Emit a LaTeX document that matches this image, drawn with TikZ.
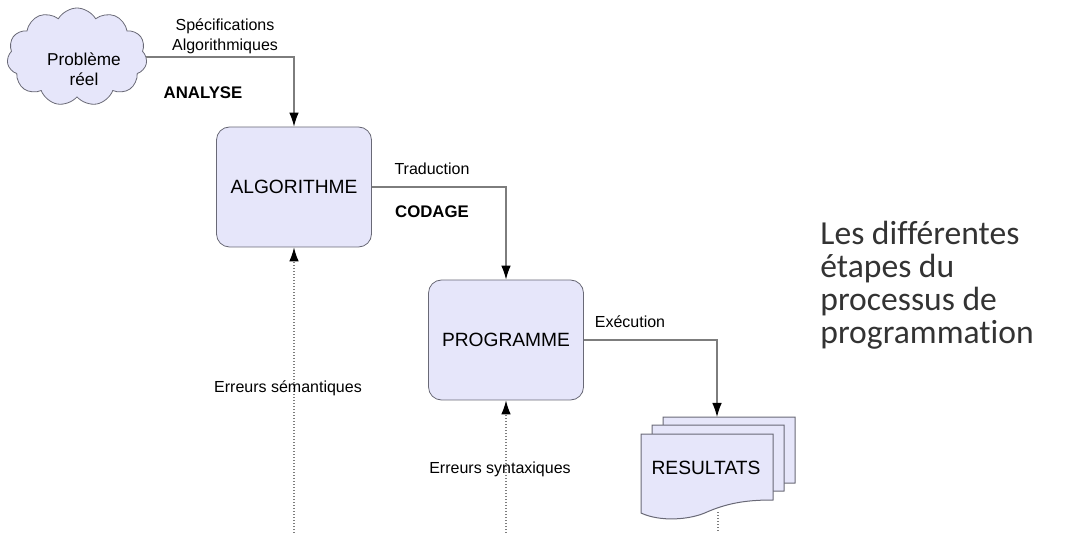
\documentclass[tikz,border=0pt]{standalone}
\usepackage{fontspec}
\setmainfont{Liberation Sans}
\newfontfamily\carlito[Ligatures=NoCommon]{Carlito}
\usetikzlibrary{positioning,arrows.meta,shapes.symbols}
\definecolor{boxfill}{RGB}{230,230,250}
\definecolor{boxline}{RGB}{105,105,118}
\definecolor{wirecol}{RGB}{125,125,125}
\tikzset{
    box/.style={draw=boxline, fill=boxfill, rounded corners=6.5pt,
        minimum width=77.5pt, minimum height=60pt, font=\fontsize{9.6}{11.5}\selectfont},
    lbl/.style={font=\fontsize{8}{10}\selectfont, align=center, inner sep=0pt},
    stage/.style={font=\fontsize{8.4}{10}\selectfont\bfseries, inner sep=0pt},
    wire/.style={draw=wirecol, line width=0.6pt, -{Latex[length=7pt,width=4.8pt,black]}},
    elbow/.style={to path={-| (\tikztotarget)}}, % horizontal first, then down
    dots/.style={draw=wirecol, line width=0.6pt, dash pattern=on 0.6pt off 0.9pt},
    err/.style={dots, -{Latex[length=7pt,width=4.8pt,black]}},
}
% one sheet of the stacked document, shifted by #1,#2
\newcommand\docsheet[2]{%
  \draw[draw=boxline, fill=boxfill, line width=0.5pt, shift={(#1,#2)}]
    (641,434) -- (773,434) -- (773,500)
    .. controls (750,500) and (730,502) .. (707,512)
    .. controls (690,520) and (660,522) .. (641,513) -- cycle;}

\begin{document}
\begin{tikzpicture}[x=0.5pt, y=-0.5pt]
  \useasboundingbox (0,0) rectangle (1074,533);

  % cloud and its text
  \node[cloud, cloud puffs=11, cloud puff arc=120, aspect=1.4,
      draw=boxline, fill=boxfill, inner sep=0pt,
      minimum width=70pt, minimum height=49pt] (pbcloud) at (77,57) {};
  \node[lbl, font=\fontsize{8.6}{9.8}\selectfont] (pb) at (84,69) {Problème\\réel};

  \node[box] (algo) at (294,187) {ALGORITHME};
  \node[box] (prog) at (506,340) {PROGRAMME};

  % stacked result sheets
  \docsheet{22}{-17}
  \docsheet{11}{-9}
  \docsheet{0}{0}
  \node[font=\fontsize{9.6}{11.5}\selectfont] (res) at (706,468) {RESULTATS};
  \coordinate (restop) at (717,417);
  \coordinate (resbot) at (718,512);
  \coordinate (resfoot) at (718,533);

  \coordinate (semfoot) at (294,533);
  \coordinate (synfoot) at (506,533);

  \path[wire]
    (pbcloud) edge[elbow] (algo)
    (algo) edge[elbow] (prog)
    (prog) edge[elbow] (restop);
  \path[err]
    (semfoot) edge (algo)
    (synfoot) edge (prog);
  \draw[dots] (resbot) -- (resfoot);

  % labels
  \node[lbl] (spec) at (225,36) {Spécifications\\Algorithmiques};
  \node[stage] (analyse) at (203,93) {ANALYSE};
  \node[lbl] (trad) at (432,169) {Traduction};
  \node[stage] (codage) at (432,212) {CODAGE};
  \node[lbl] (exec) at (630,322) {Exécution};
  \node[lbl] (sem) at (288,388) {Erreurs sémantiques};
  \node[lbl] (syn) at (500,469) {Erreurs syntaxiques};

  \node[anchor=north west, align=left, inner sep=0pt, text=black!80,
      font=\carlito\fontsize{16.8}{16.5}\selectfont] (title) at (820,221)
      {Les différentes\\étapes du\\processus de\\programmation};
\end{tikzpicture}
\end{document}
